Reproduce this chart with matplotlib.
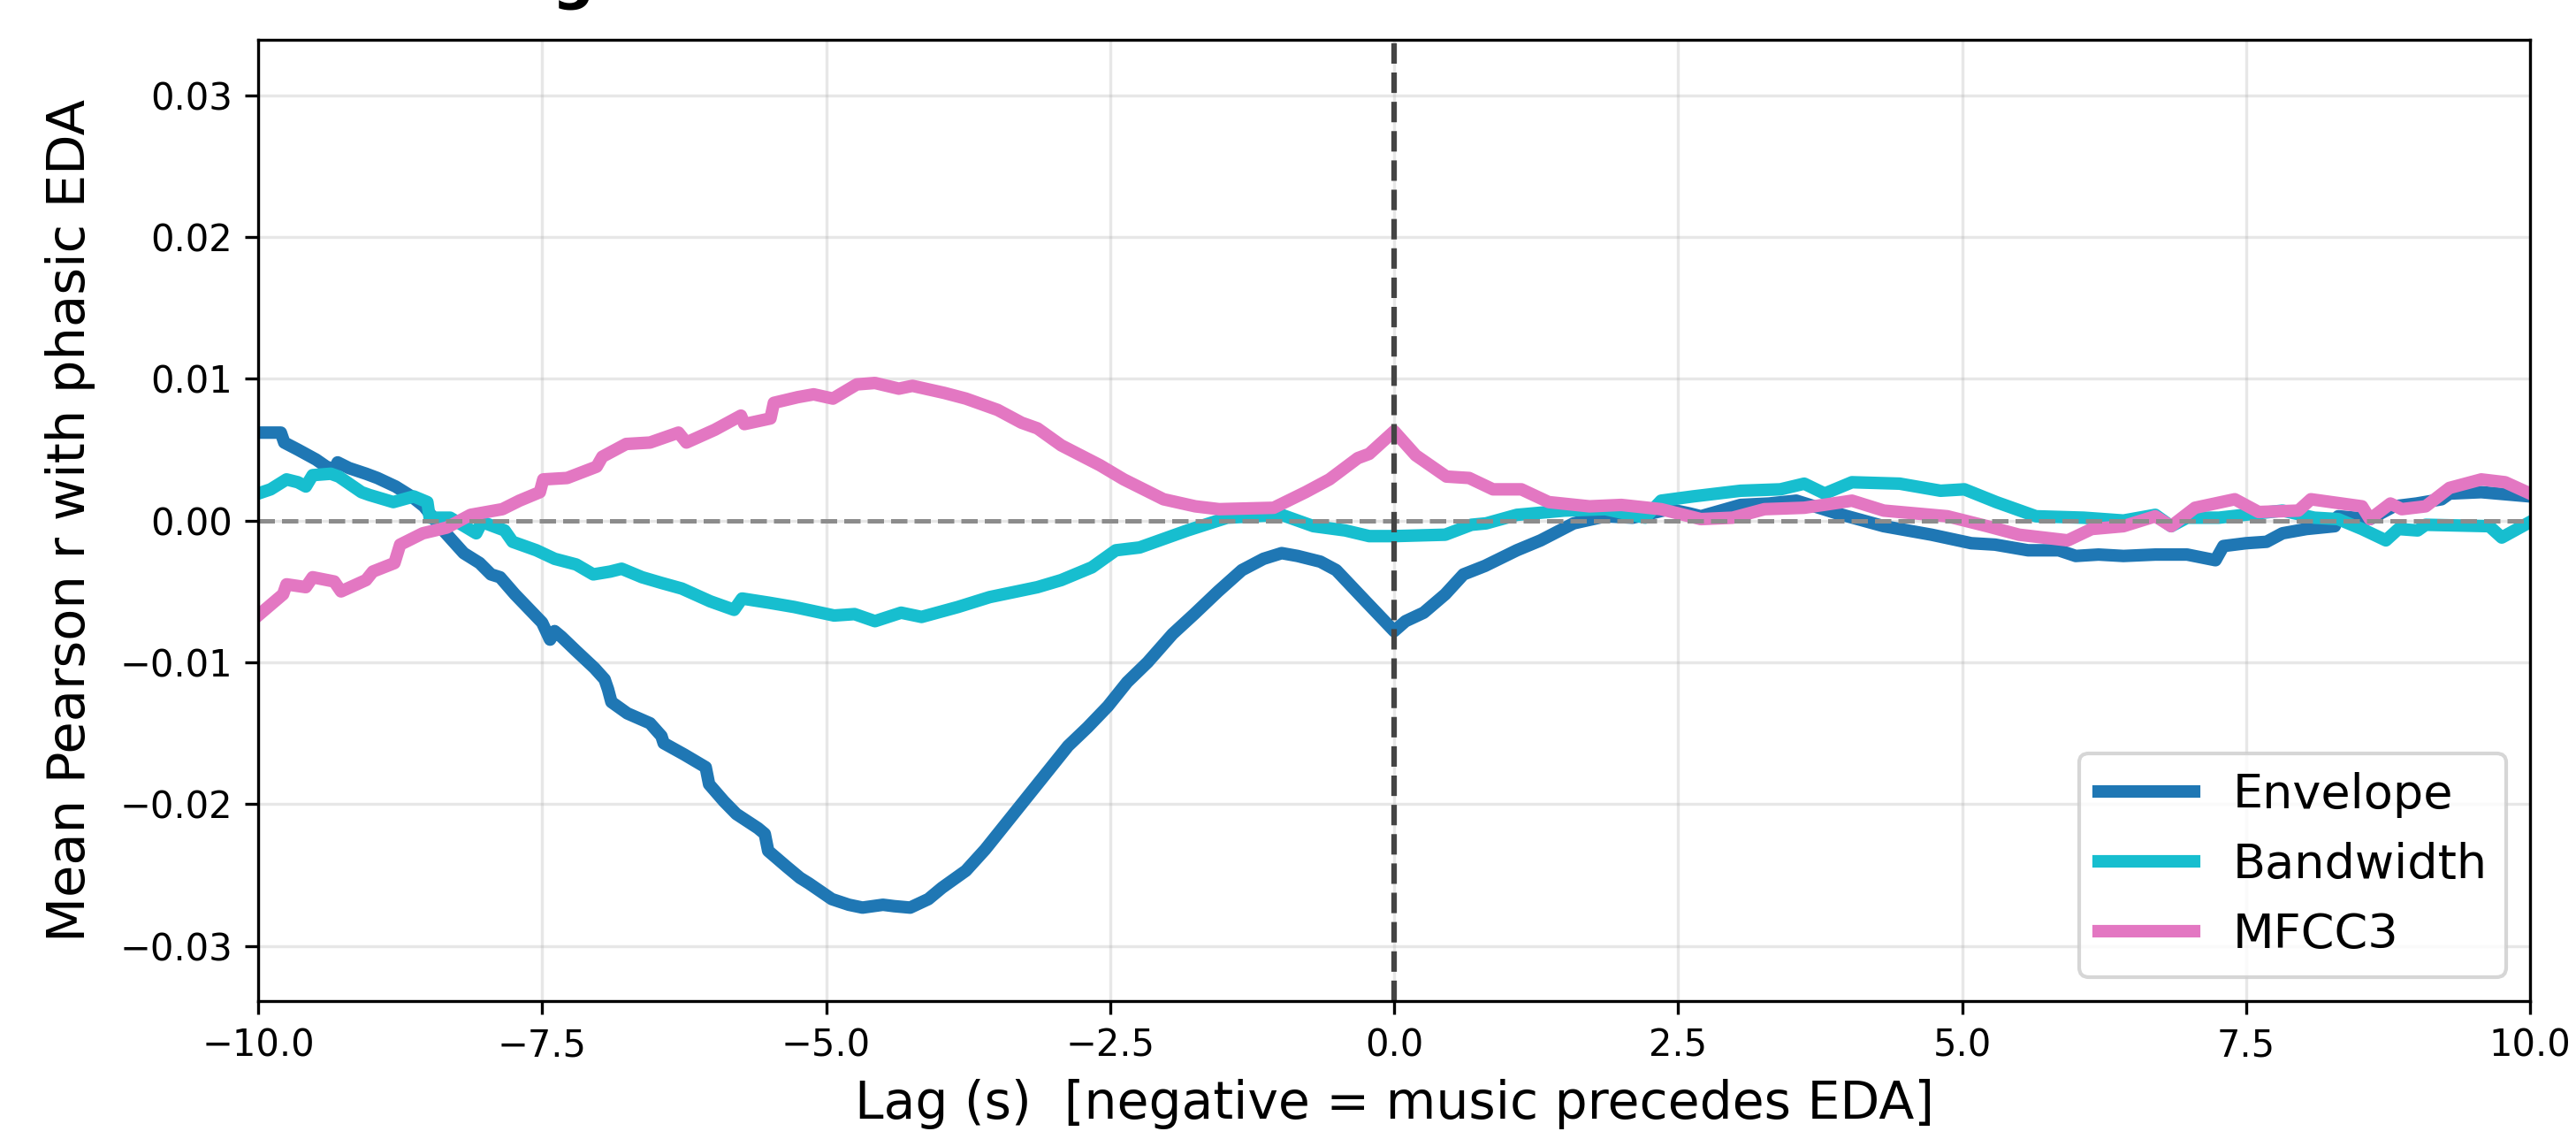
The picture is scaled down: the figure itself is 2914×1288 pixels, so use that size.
# -*- coding: utf-8 -*-
"""Mean lagged Pearson r between music features and phasic EDA."""
import matplotlib
matplotlib.use("Agg")
import matplotlib.pyplot as plt

plt.rcParams.update({"font.family": "DejaVu Sans"})

# lag (s) / mean r
env_lag = [-10.0, -9.80, -9.77, -9.65, -9.49, -9.40, -9.33, -9.30, -9.20, -9.05, -8.95, -8.79, -8.65, -8.54,
           -8.37, -8.19, -8.05, -7.95, -7.87, -7.74, -7.56, -7.50, -7.43, -7.39, -7.33, -7.20, -7.04, -6.95,
           -6.92, -6.89, -6.75, -6.55, -6.45, -6.43, -6.25, -6.06, -6.03, -5.90, -5.79, -5.60, -5.54, -5.51,
           -5.35, -5.23, -5.15, -4.95, -4.80, -4.68, -4.50, -4.40, -4.26, -4.10, -3.98, -3.77, -3.60, -3.42,
           -3.14, -2.87, -2.70, -2.52, -2.35, -2.17, -1.95, -1.76, -1.55, -1.34, -1.15, -0.99, -0.85, -0.65,
           -0.51, -0.25, 0.0, 0.10, 0.26, 0.45, 0.61, 0.80, 1.08, 1.29, 1.58, 1.86, 2.10, 2.42, 2.60, 2.70,
           3.05, 3.30, 3.54, 3.90, 4.31, 4.73, 5.08, 5.29, 5.58, 5.85, 6.00, 6.20, 6.42, 6.70, 6.98, 7.23,
           7.30, 7.50, 7.68, 7.82, 8.03, 8.28, 8.31, 8.59, 8.80, 9.00, 9.22, 9.29, 9.57, 10.0]
env_r = [0.0062, 0.0062, 0.0055, 0.0050, 0.0043, 0.0038, 0.0036, 0.0041, 0.0037, 0.0033, 0.0030, 0.0024, 0.0017,
         0.0010, -0.0007, -0.0023, -0.0030, -0.0038, -0.0040, -0.0052, -0.0067, -0.0072, -0.0084, -0.0078,
         -0.0082, -0.0092, -0.0104, -0.0112, -0.0119, -0.0128, -0.0136, -0.0143, -0.0152, -0.0157, -0.0165,
         -0.0174, -0.0186, -0.0198, -0.0207, -0.0217, -0.0221, -0.0233, -0.0244, -0.0252, -0.0256, -0.0267,
         -0.0271, -0.0273, -0.0271, -0.0272, -0.0273, -0.0267, -0.0259, -0.0247, -0.0232, -0.0214, -0.0186,
         -0.0159, -0.0146, -0.0131, -0.0114, -0.0100, -0.0080, -0.0066, -0.0050, -0.0035, -0.0027, -0.0023,
         -0.0025, -0.0029, -0.0035, -0.0057, -0.0078, -0.0071, -0.0065, -0.0052, -0.0038, -0.0032, -0.0021,
         -0.0014, -0.0002, 0.0003, 0.0002, 0.0008, 0.0005, 0.0003, 0.0011, 0.0012, 0.0014, 0.0005, -0.0004,
         -0.0010, -0.0016, -0.0017, -0.0021, -0.0021, -0.0025, -0.0024, -0.0025, -0.0024, -0.0024, -0.0028,
         -0.0018, -0.0016, -0.0015, -0.0009, -0.0006, -0.0004, 0.0003, 0.0001, 0.0010, 0.0012, 0.0015, 0.0019,
         0.0020, 0.0017]

bw_lag = [-10.0, -9.89, -9.75, -9.65, -9.58, -9.52, -9.36, -9.29, -9.09, -9.02, -8.81, -8.63, -8.51, -8.49,
          -8.31, -8.08, -8.03, -7.83, -7.76, -7.55, -7.39, -7.20, -7.05, -6.90, -6.80, -6.62, -6.45, -6.27,
          -6.02, -5.81, -5.74, -5.50, -5.28, -4.93, -4.75, -4.57, -4.34, -4.16, -3.84, -3.56, -3.14, -2.93,
          -2.66, -2.45, -2.24, -1.82, -1.47, -0.99, -0.71, -0.43, -0.22, 0.0, 0.45, 0.68, 0.81, 1.08, 1.50,
          1.86, 2.21, 2.35, 2.63, 3.05, 3.40, 3.61, 3.79, 4.03, 4.45, 4.81, 5.02, 5.30, 5.65, 6.07, 6.42,
          6.70, 6.84, 6.98, 7.26, 7.82, 8.10, 8.31, 8.52, 8.73, 8.84, 9.01, 9.08, 9.64, 9.75, 10.0]
bw_r = [0.0019, 0.0022, 0.0029, 0.0027, 0.0024, 0.0032, 0.0033, 0.0031, 0.0020, 0.0018, 0.0013, 0.0017, 0.0013,
        0.0002, 0.0002, -0.0009, -0.0001, -0.0007, -0.0015, -0.0021, -0.0027, -0.0031, -0.0038, -0.0036,
        -0.0034, -0.0040, -0.0044, -0.0048, -0.0057, -0.0063, -0.0055, -0.0058, -0.0061, -0.0067, -0.0066,
        -0.0071, -0.0065, -0.0068, -0.0061, -0.0054, -0.0047, -0.0042, -0.0033, -0.0021, -0.0019, -0.0007,
        0.0002, 0.0004, -0.0004, -0.0007, -0.0011, -0.0011, -0.0010, -0.0003, -0.0002, 0.0004, 0.0007, 0.0008,
        0.0002, 0.0014, 0.0017, 0.0021, 0.0022, 0.0026, 0.0019, 0.0027, 0.0026, 0.0021, 0.0022, 0.0013, 0.0003,
        0.0002, 0.0000, 0.0004, -0.0004, 0.0002, 0.0002, 0.0007, 0.0002, 0.0001, -0.0006, -0.0014, -0.0006,
        -0.0007, -0.0003, -0.0004, -0.0012, -0.0001]

mf_lag = [-10.0, -9.78, -9.75, -9.58, -9.52, -9.33, -9.27, -9.05, -8.99, -8.80, -8.75, -8.55, -8.34, -8.13,
          -7.85, -7.70, -7.52, -7.49, -7.28, -7.02, -6.97, -6.76, -6.55, -6.30, -6.23, -5.98, -5.75, -5.72,
          -5.49, -5.46, -5.25, -5.11, -4.94, -4.73, -4.57, -4.36, -4.24, -3.96, -3.77, -3.49, -3.28, -3.14,
          -2.93, -2.59, -2.38, -2.03, -1.75, -1.54, -1.06, -0.78, -0.57, -0.32, -0.22, 0.0, 0.19, 0.46, 0.66,
          0.87, 1.12, 1.36, 1.72, 2.00, 2.35, 2.70, 2.98, 3.26, 3.61, 4.03, 4.31, 4.87, 5.22, 5.50, 5.93,
          6.14, 6.42, 6.70, 6.84, 7.05, 7.40, 7.61, 7.96, 8.07, 8.52, 8.59, 8.77, 8.87, 9.08, 9.29, 9.57,
          9.78, 10.0]
mf_r = [-0.0067, -0.0052, -0.0045, -0.0047, -0.0040, -0.0043, -0.0050, -0.0042, -0.0036, -0.0030, -0.0017,
        -0.0009, -0.0005, 0.0004, 0.0008, 0.0014, 0.0020, 0.0029, 0.0030, 0.0038, 0.0045, 0.0054, 0.0055,
        0.0062, 0.0055, 0.0064, 0.0074, 0.0068, 0.0072, 0.0083, 0.0087, 0.0089, 0.0086, 0.0096, 0.0097,
        0.0093, 0.0095, 0.0090, 0.0086, 0.0078, 0.0069, 0.0065, 0.0053, 0.0039, 0.0029, 0.0015, 0.0010,
        0.0008, 0.0009, 0.0020, 0.0029, 0.0044, 0.0047, 0.0063, 0.0046, 0.0031, 0.0030, 0.0022, 0.0022,
        0.0013, 0.0010, 0.0011, 0.0008, 0.0001, 0.0002, 0.0008, 0.0009, 0.0014, 0.0007, 0.0003, -0.0004,
        -0.0010, -0.0014, -0.0006, -0.0004, 0.0003, -0.0004, 0.0009, 0.0015, 0.0006, 0.0007, 0.0015, 0.0010,
        0.0001, 0.0012, 0.0008, 0.0010, 0.0023, 0.0029, 0.0027, 0.0019]

series = [("Envelope", env_lag, env_r, "#1f77b4"),
          ("Bandwidth", bw_lag, bw_r, "#17becf"),
          ("MFCC3", mf_lag, mf_r, "#e377c2")]

fig = plt.figure(figsize=(2914/300, 1288/300), dpi=300)
ax = fig.add_axes([0.1002, 0.121, 0.882, 0.844])
for name, x, y, c in series:
    ax.plot(x, y, color=c, lw=3.4, label=name)
ax.axhline(0, color="#8c8c8c", lw=1.2, ls="--")
ax.axvline(0, color="#444444", lw=1.5, ls="--")
ax.set_xlim(-10, 10)
ax.set_ylim(-0.0339, 0.0339)
ax.set_yticks([-0.03, -0.02, -0.01, 0.0, 0.01, 0.02, 0.03])
ax.tick_params(labelsize=10)
ax.grid(alpha=0.3)
ax.set_xlabel("Lag (s)  [negative = music precedes EDA]", fontsize=14)
ax.set_ylabel("Mean Pearson r with phasic EDA", fontsize=14.2, labelpad=6.5)
ax.legend(loc="lower right", fontsize=13)
# title sits above the top edge; only its descender shows
fig.text(0.1065, 1.003, "Mean Lag Correlation: Music Features vs. EDA", fontsize=16, fontweight="bold",
         ha="left", va="baseline")
fig.savefig("out.png", dpi=300, facecolor="white")
plt.close(fig)
